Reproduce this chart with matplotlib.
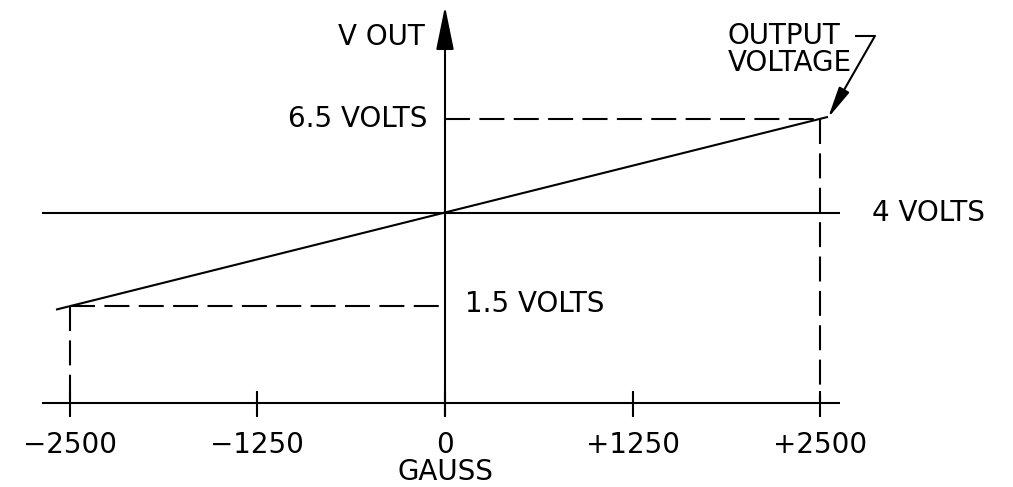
import matplotlib
matplotlib.use("Agg")
import matplotlib.pyplot as plt

# data
gauss_ticks = [-2500, -1250, 0, 1250, 2500]
tick_labels = ["\u22122500", "\u22121250", "0", "+1250", "+2500"]
gauss_range = [-2590, 2550]          # ends of the output line
v_low, v_mid, v_high = 1.5, 4.0, 6.5
v_axis = -1.08                       # level of the gauss axis


def vout(g):
    return v_mid + (v_high - v_mid) * g / 2500


fig = plt.figure(figsize=(10.13, 4.87), dpi=100)
ax = fig.add_axes([0, 0, 1, 1])
ax.set_xlim(-2963, 3782)
ax.set_ylim(-3.32, 9.667)
ax.axis("off")

lw = 1.5
kw = dict(color="black", lw=lw, solid_capstyle="butt")
dash = dict(color="black", lw=lw, linestyle=(0, (12, 4.5)))
fs = 20

# gauss axis and ticks
ax.plot([-2683, 2630], [v_axis, v_axis], **kw)
for g in gauss_ticks:
    ax.plot([g, g], [v_axis - 0.36, v_axis + 0.33], **kw)
for g, lab in zip(gauss_ticks, tick_labels):
    ax.text(g, -2.2, lab, ha="center", va="center", fontsize=fs)
ax.text(0, -2.92, "GAUSS", ha="center", va="center", fontsize=fs)

# vertical axis with arrow
ax.annotate("", xy=(0, 9.5), xytext=(0, -1.43),
            arrowprops=dict(arrowstyle="-|>,head_length=27,head_width=5.5",
                            mutation_scale=1, lw=lw, color="black",
                            shrinkA=0, shrinkB=0))
ax.text(-133, 8.68, "V OUT", ha="right", va="center", fontsize=fs)

# 4 volt reference line
ax.plot([-2683, 2630], [v_mid, v_mid], **kw)
ax.text(2843, v_mid, "4 VOLTS", ha="left", va="center", fontsize=fs)

# output line
ax.plot(gauss_range, [vout(g) for g in gauss_range], **kw)

# dashed guides
ax.plot([0, 2500], [v_high, v_high], **dash)
ax.plot([2500, 2500], [v_high, v_axis], **dash)
ax.plot([-2500, 0], [v_low, v_low], **dash)
ax.plot([-2500, -2500], [v_low, v_axis], **dash)
ax.text(-120, v_high, "6.5 VOLTS", ha="right", va="center", fontsize=fs)
ax.text(133, 1.55, "1.5 VOLTS", ha="left", va="center", fontsize=fs)

# output voltage callout
ax.text(1884, 8.71, "OUTPUT", ha="left", va="center", fontsize=fs)
ax.text(1884, 8.0, "VOLTAGE", ha="left", va="center", fontsize=fs)
ax.plot([2730, 2863], [8.71, 8.71], **kw)
ax.annotate("", xy=(2550, 6.52), xytext=(2863, 8.71),
            arrowprops=dict(arrowstyle="-|>,head_length=19,head_width=3.5",
                            mutation_scale=1, lw=lw, color="black",
                            shrinkA=0, shrinkB=0))

fig.savefig("out.png", dpi=100)
